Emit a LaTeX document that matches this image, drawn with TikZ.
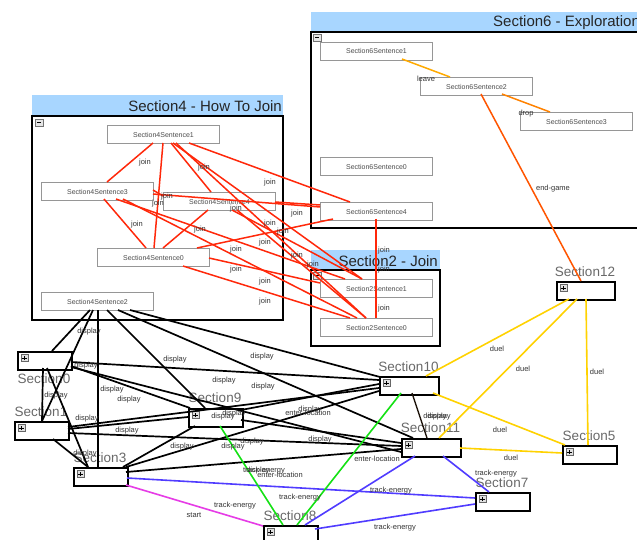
\documentclass[tikz,border=0pt]{standalone}
\usepackage{fontspec}
\setmainfont{Liberation Sans}
\usetikzlibrary{calc}

\definecolor{hdrblue}{RGB}{168,214,255}
\definecolor{joinred}{RGB}{255,40,10}
\definecolor{leaveor}{RGB}{255,170,0}
\definecolor{dropor}{RGB}{255,130,0}
\definecolor{endor}{RGB}{255,85,0}
\definecolor{duelyel}{RGB}{255,210,0}
\definecolor{trackblue}{RGB}{80,60,255}
\definecolor{locgreen}{RGB}{20,225,20}
\definecolor{startmag}{RGB}{230,60,230}
\definecolor{sentgray}{RGB}{150,150,150}
\definecolor{labgray}{RGB}{105,105,105}

\tikzset{
  sentence/.style={draw=sentgray, line width=1pt, fill=white, anchor=north west,
    minimum width=112pt, minimum height=18pt, inner sep=0pt,
    font=\fontsize{7}{8}\selectfont, text=black!70},
  section/.style={draw=black, line width=2pt, fill=white, anchor=north west,
    minimum width=54pt, minimum height=18pt, inner sep=0pt,
    path picture={
      \draw[line width=0.5pt, draw=black!60, fill=black!12]
        ([shift={(3pt,-2.5pt)}]path picture bounding box.north west)
        rectangle ++(7pt,-7pt);
      \draw[line width=0.9pt]
        ([shift={(6.5pt,-6pt)}]path picture bounding box.north west)
        +(-2.2pt,0pt) -- +(2.2pt,0pt) +(0pt,-2.2pt) -- +(0pt,2.2pt);
    }},
  seclabel/.style={font=\fontsize{13.5}{14}\selectfont, text=labgray, inner sep=0pt},
  container/.style={draw=black, line width=2.5pt, fill=white},
  header/.style={fill=hdrblue},
  boxtitle/.style={font=\fontsize{15}{16}\selectfont, text=black!85, anchor=east, inner sep=0pt},
  minusbox/.style={draw=black!55, line width=0.5pt, fill=black!10},
  elabel/.style={font=\fontsize{7.5}{8}\selectfont, text=black!80, inner sep=0pt},
  joinedge/.style={draw=joinred, line width=1.5pt},
  displayedge/.style={draw=black, line width=1.7pt},
  duedge/.style={draw=duelyel, line width=1.6pt},
  trackedge/.style={draw=trackblue, line width=1.6pt},
  locedge/.style={draw=locgreen, line width=1.6pt},
  startedge/.style={draw=startmag, line width=1.6pt},
}

\begin{document}
\begin{tikzpicture}[x=1pt,y=-1pt]
\useasboundingbox (0,0) rectangle (637,540);
\fill[white] (0,0) rectangle (637,540);

% ---- group boxes ----
% Section6
\fill[header] (311,12) rectangle (660,32);
\draw[container] (311,32) rectangle (660,228);
\node[boxtitle, anchor=west] (t6) at (493,22.5) {Section6 - Exploration};
\draw[minusbox] (313,34) rectangle (321,41);
\draw[line width=0.9pt] (315,37.5) -- (319,37.5);

% Section4
\fill[header] (32,95) rectangle (283,115);
\draw[container] (32,116) rectangle (283,320);
\node[boxtitle] (t4) at (282,106) {Section4 - How To Join};
\draw[minusbox] (35,119) rectangle (43,126);
\draw[line width=0.9pt] (37,122.5) -- (41,122.5);

% Section2
\fill[header] (311,250) rectangle (440,269);
\draw[container] (311,270) rectangle (440,346);
\node[boxtitle] (t2) at (438,261) {Section2 - Join};
\draw[minusbox] (313,272) rectangle (321,279);
\draw[line width=0.9pt] (315,275.5) -- (319,275.5);

% ---- sentences ----
\node[sentence] (s6s1) at (320,42)  {Section6Sentence1};
\node[sentence] (s6s2) at (420,77)  {Section6Sentence2};
\node[sentence] (s6s3) at (520,112) {Section6Sentence3};
\node[sentence] (s6s0) at (320,157) {Section6Sentence0};
\node[sentence] (s6s4) at (320,202) {Section6Sentence4};
\node[sentence] (s4s1) at (107,125) {Section4Sentence1};
\node[sentence] (s4s3) at (41,182)  {Section4Sentence3};
\node[sentence] (s4s4) at (163,192) {Section4Sentence4};
\node[sentence] (s4s0) at (97,248)  {Section4Sentence0};
\node[sentence] (s4s2) at (41,292)  {Section4Sentence2};
\node[sentence] (s2s1) at (320,279) {Section2Sentence1};
\node[sentence] (s2s0) at (320,318) {Section2Sentence0};

% ---- sections ----
\node[section] (sec0)  at (17,351)  {};
\node[section] (sec1)  at (14,421)  {};
\node[section] (sec3)  at (73,467)  {};
\node[section] (sec9)  at (188,408) {};
\node[section] (sec8)  at (263,525) {};
\node[section, minimum width=59pt] (sec10) at (379,376) {};
\node[section, minimum width=59pt] (sec11) at (401,438) {};
\node[section] (sec5)  at (562,445) {};
\node[section] (sec7)  at (475,492) {};
\node[section, minimum width=58pt] (sec12) at (556,281) {};

\node[seclabel] (lab0)  at (44,379)    {Section0};
\node[seclabel] (lab1)  at (41,412)    {Section1};
\node[seclabel] (lab3)  at (100,458)   {Section3};
\node[seclabel] (lab9)  at (215,398)   {Section9};
\node[seclabel] (lab8)  at (290,516)   {Section8};
\node[seclabel] (lab10) at (408.5,367) {Section10};
\node[seclabel] (lab11) at (430.5,428) {Section11};
\node[seclabel] (lab5)  at (589,436)   {Section5};
\node[seclabel] (lab7)  at (502,483)   {Section7};
\node[seclabel] (lab12) at (585,272)   {Section12};

% ---- connectors ----
% inside Section6
\draw[draw=leaveor, line width=1.5pt] ($(s6s1.north west)+(82,17)$) -- ($(s6s2.north west)+(30,0)$);
\draw[draw=dropor, line width=1.5pt] ($(s6s2.north west)+(82,17)$) -- ($(s6s3.north west)+(30,0)$);
\draw[draw=endor, line width=1.5pt] ($(s6s2.north west)+(61,17)$) -- ($(sec12.north west)+(25,0)$);

% join
\foreach \a/\ax/\ay/\b/\bx/\by in {
  s4s1/46/18/s4s3/66/0,
  s4s1/56/18/s4s0/57/0,
  s4s1/64/18/s4s4/48/0,
  s4s1/82/18/s6s4/30/0,
  s4s1/66/18/s2s1/42/0,
  s4s1/69/18/s2s0/46/0,
  s4s3/63/17/s4s0/49/0,
  s4s3/112/12/s6s4/0/5,
  s4s3/75/17/s2s1/25/0,
  s4s3/82/17/s2s0/37/0,
  s4s3/112/8/s4s4/0/4,
  s4s4/45/18/s4s0/66/0,
  s4s4/112/10/s6s4/0/3,
  s4s4/69/18/s2s1/42/0,
  s4s4/74/18/s2s0/46/0,
  s4s0/100/0/s6s4/13/17,
  s4s0/112/10/s2s1/0/4,
  s4s0/86/18/s2s0/30/0,
  s6s4/56/17/s2s1/56/0,
  s6s4/56/17/s2s0/56/0,
  s2s1/56/18/s2s0/56/0}
  \draw[joinedge] ($(\a.north west)+(\ax,\ay)$) -- ($(\b.north west)+(\bx,\by)$);

% display
\foreach \a/\ax/\ay/\b/\bx/\by in {
  s4s2/49/18/sec0/35/0,
  s4s2/52/18/sec1/28/0,
  s4s2/57/18/sec3/25/0,
  s4s2/66/18/sec9/17/0,
  s4s2/77/18/sec11/12/0,
  s4s2/89/18/sec10/1/1,
  sec0/26/17/sec1/28/0,
  sec0/30/17/sec3/15/0,
  sec0/54/11/sec10/0/4,
  sec0/54/15/sec9/2/0,
  sec0/54/16/sec11/0/14,
  sec1/54/8/sec9/0/9,
  sec1/54/6/sec10/0/12,
  sec1/54/12/sec11/0/8,
  sec1/39/18/sec3/15/0,
  sec9/7/18/sec3/50/0,
  sec9/53/2/sec10/0/8,
  sec9/53/12/sec11/0/5,
  sec3/53/0/sec10/0/15,
  sec3/53/5/sec11/0/11}
  \draw[displayedge] ($(\a.north west)+(\ax,\ay)$) -- ($(\b.north west)+(\bx,\by)$);
\draw[draw=black!85!brown, line width=1.3pt] ($(sec10.north west)+(33,17)$) -- ($(sec11.north west)+(26,0)$);

% duel
\foreach \a/\ax/\ay/\b/\bx/\by in {
  sec12/13/18/sec10/47/0,
  sec12/21/18/sec11/38/0,
  sec12/30/18/sec5/26/0,
  sec10/54/17/sec5/3/0,
  sec11/59/10/sec5/0/8}
  \draw[duedge] ($(\a.north west)+(\ax,\ay)$) -- ($(\b.north west)+(\bx,\by)$);

% track-energy
\foreach \a/\ax/\ay/\b/\bx/\by in {
  sec11/14/18/sec8/42/0,
  sec11/42/18/sec7/14/0,
  sec3/54/11/sec7/0/6,
  sec8/52/4/sec7/0/12}
  \draw[trackedge] ($(\a.north west)+(\ax,\ay)$) -- ($(\b.north west)+(\bx,\by)$);

% enter-location
\draw[locedge] ($(sec9.north west)+(32,18)$) -- ($(sec8.north west)+(20,0)$);
\draw[locedge] ($(sec10.north west)+(22,17)$) -- ($(sec8.north west)+(34,0)$);

% start
\draw[startedge] ($(sec3.north west)+(53,18)$) -- ($(sec8.north west)+(0,1)$);

% ---- connector labels ----
\node[elabel] (lleave) at (426,79) {leave};
\node[elabel] (ldrop) at (526,114) {drop};
\node[elabel] (lend) at (553,189) {end-game};

\foreach \x/\y [count=\i] in {145/163, 204/168, 270/183, 167/197, 158/204,
  236/209, 297/214, 137/225, 200/230, 270/224, 283/232, 236/250, 265/243,
  297/256, 313/265, 236/270, 265/282, 265/302, 384/251, 384/270, 384/309}
  \node[elabel] (jl\i) at (\x,\y) {join};

\foreach \x/\y [count=\i] in {89/332, 86/366, 175/360, 262/357, 224/381,
  263/387, 112/390, 129/400, 56/396, 87/419, 223/417, 234/414, 127/431,
  182/447, 233/447, 252/442, 320/440, 85/454, 258/471, 310/410, 435/417, 439/417}
  \node[elabel] (dl\i) at (\x,\y) {display};

\foreach \x/\y [count=\i] in {497/349, 523/369, 597/372, 500/430, 511/458}
  \node[elabel] (ul\i) at (\x,\y) {duel};

\foreach \x/\y [count=\i] in {308/413, 280/475, 377/459}
  \node[elabel] (el\i) at (\x,\y) {enter-location};

\foreach \x/\y [count=\i] in {264/471, 235/506, 300/498, 391/491, 395/528, 496/474}
  \node[elabel] (tl\i) at (\x,\y) {track-energy};

\node[elabel] (lstart) at (194,515) {start};
\end{tikzpicture}
\end{document}
